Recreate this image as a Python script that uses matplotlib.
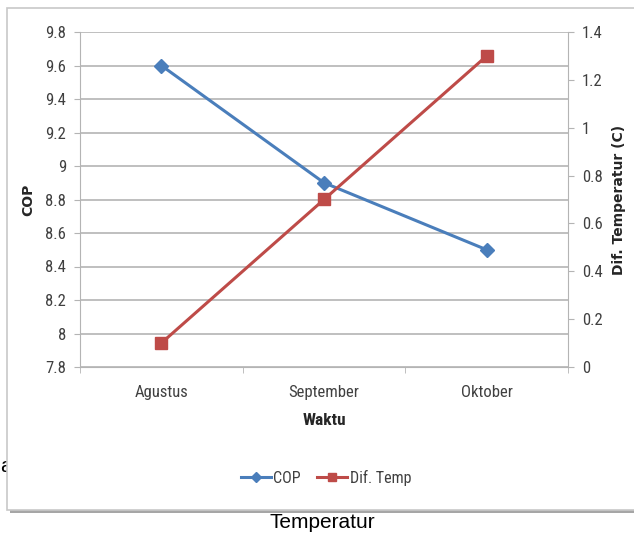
import matplotlib
matplotlib.use("Agg")
import matplotlib.pyplot as plt
from matplotlib.patches import Rectangle
from matplotlib.lines import Line2D

# ── data ──────────────────────────────────────────────────────────────────
months   = ["Agustus", "September", "Oktober"]
cop      = [9.6, 8.9, 8.5]
dif_temp = [0.1, 0.7, 1.3]

cop_ticks  = [7.8, 8.0, 8.2, 8.4, 8.6, 8.8, 9.0, 9.2, 9.4, 9.6, 9.8]
cop_labels = ["7.8", "8", "8.2", "8.4", "8.6", "8.8", "9", "9.2", "9.4", "9.6", "9.8"]
temp_ticks  = [0, 0.2, 0.4, 0.6, 0.8, 1.0, 1.2, 1.4]
temp_labels = ["0", "0.2", "0.4", "0.6", "0.8", "1", "1.2", "1.4"]

BLUE = "#4a7ebb"
RED  = "#be4b48"
GRID = "#b4b4b4"
TXT  = "#404040"

plt.rcParams["font.family"] = ["Roboto Condensed", "Liberation Sans Narrow",
                               "Liberation Sans", "DejaVu Sans"]

W, H = 634, 539
fig = plt.figure(figsize=(W / 100, H / 100), dpi=100)
fig.patch.set_facecolor("white")

# caption remnant "a" sits under the chart frame on the scanned page
fig.text(0 / W, 1 - 466 / H, "a", fontsize=15, family=["Liberation Sans"],
         va="center", zorder=-3)

# chart frame with shadow (cut off at the right edge like the scan)
fig.patches.append(Rectangle((10 / W, 1 - 513 / H), 640 / W, 503 / H,
                             transform=fig.transFigure, facecolor="#a6a6a6",
                             edgecolor="none", zorder=-2))
fig.patches.append(Rectangle((7 / W, 1 - 510 / H), 640 / W, 502 / H,
                             transform=fig.transFigure, facecolor="white",
                             edgecolor="#c8c8c8", lw=1.2, zorder=-1))

ax = fig.add_axes([80 / W, 1 - 367 / H, 488 / W, 335 / H])
ax.set_facecolor("none")
x = list(range(len(months)))

ax.plot(x, cop, color=BLUE, lw=2.2, marker="D", ms=7, mfc=BLUE, mec=BLUE, zorder=4)
ax.set_xlim(-0.5, 2.5)
ax.set_ylim(7.8, 9.8)
ax.set_yticks(cop_ticks)
ax.set_yticklabels(cop_labels)
ax.yaxis.grid(True, color=GRID, lw=1.2)
ax.set_axisbelow(True)
ax.set_xticks(x)
ax.set_xticklabels(months)
ax.set_xticks([-0.5, 0.5, 1.5, 2.5], minor=True)
ax.tick_params(axis="x", which="major", length=0, pad=13, labelsize=12, colors=TXT)
ax.tick_params(axis="x", which="minor", length=4, color=GRID)
ax.tick_params(axis="y", length=4, color=GRID, labelsize=12, colors=TXT, pad=6)
for s in ["top", "right"]:
    ax.spines[s].set_visible(False)
ax.spines["left"].set_color(GRID)
ax.spines["bottom"].set_color(GRID)
ax.set_ylabel("COP", fontsize=10, fontweight="bold", color="#262626",
              family=["DejaVu Sans"], labelpad=7)
ax.set_xlabel("Waktu", fontsize=12.5, fontweight="bold", color="#262626", labelpad=9)

ax2 = ax.twinx()
ax2.plot(x, dif_temp, color=RED, lw=2.2, marker="s", ms=8, mfc=RED, mec=RED, zorder=3)
ax2.set_ylim(0, 1.4)
ax2.set_yticks(temp_ticks)
ax2.set_yticklabels(temp_labels)
ax2.tick_params(axis="y", length=4, color=GRID, labelsize=12, colors=TXT, pad=6)
for s in ["top", "left", "bottom"]:
    ax2.spines[s].set_visible(False)
ax2.spines["right"].set_color(GRID)
ax2.set_ylabel("Dif. Temperatur (C)", fontsize=10, fontweight="bold",
               color="#262626", family=["DejaVu Sans"], labelpad=7)

handles = [Line2D([], [], color=BLUE, lw=2.2, marker="D", ms=5),
           Line2D([], [], color=RED, lw=2.2, marker="s", ms=6)]
fig.legend(handles, ["COP", "Dif. Temp"], loc="center", bbox_to_anchor=(326 / W, 1 - 478 / H),
           ncol=2, frameon=False, fontsize=11.5, handlelength=1.9, handletextpad=0.15,
           columnspacing=1.0, labelcolor=TXT)

fig.text(322 / W, 1 - 523 / H, "Temperatur", fontsize=15, family=["Liberation Sans"],
         ha="center", va="center")

fig.savefig("out.png", dpi=100)
